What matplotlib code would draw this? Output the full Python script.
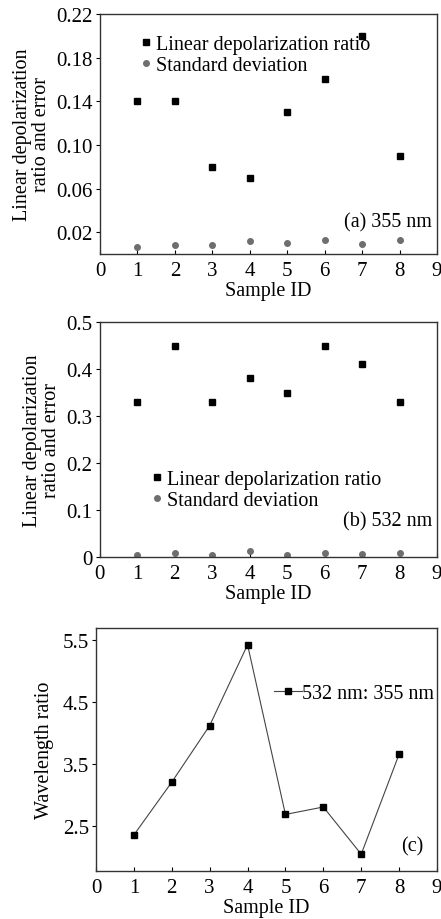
import matplotlib
matplotlib.use("Agg")
import matplotlib.pyplot as plt

# Sample IDs shared by all three panels
sample_id = [1, 2, 3, 4, 5, 6, 7, 8]

# (a) 355 nm
ldr_355 = [0.14, 0.14, 0.08, 0.07, 0.13, 0.16, 0.20, 0.09]
std_355 = [0.006, 0.008, 0.008, 0.012, 0.010, 0.013, 0.009, 0.013]

# (b) 532 nm
ldr_532 = [0.33, 0.45, 0.33, 0.38, 0.35, 0.45, 0.41, 0.33]
std_532 = [0.005, 0.008, 0.004, 0.012, 0.005, 0.008, 0.006, 0.008]

# (c) wavelength ratio 532/355
wl_ratio = [2.36, 3.21, 4.12, 5.42, 2.69, 2.81, 2.05, 3.66]

plt.rcParams['font.family'] = ['Liberation Serif', 'DejaVu Serif']
plt.rcParams['font.size'] = 14.5
plt.rcParams['xtick.labelsize'] = 15
plt.rcParams['ytick.labelsize'] = 15
plt.rcParams['axes.linewidth'] = 1.0
plt.rcParams['axes.edgecolor'] = '#333333'

W, H = 441, 920
fig = plt.figure(figsize=(W / 100, H / 100), dpi=100)


def px_axes(left, top, right, bottom):
    return fig.add_axes([left / W, 1 - bottom / H, (right - left) / W, (bottom - top) / H])


def style(ax):
    ax.set_xlim(0, 9)
    ax.set_xticks(range(10))
    ax.tick_params(axis='x', direction='in', length=3, pad=5)
    ax.tick_params(axis='y', direction='out', length=3, pad=2)
    ax.set_xlabel('Sample ID', labelpad=1)


gray = '#6e6e6e'
legend_kw = dict(frameon=False, handlelength=0.4, handletextpad=0.3,
                 borderpad=0, labelspacing=0.12)

# panel (a)
ax1 = px_axes(100, 15, 437, 255)
ax1.plot(sample_id, ldr_355, 's', color='black', ms=4, label='Linear depolarization ratio')
ax1.plot(sample_id, std_355, 'o', color=gray, ms=4, label='Standard deviation')
ax1.set_ylim(0, 0.22)
ax1.set_yticks([0.02, 0.06, 0.10, 0.14, 0.18, 0.22])
ax1.set_yticklabels(['0.02', '0.06', '0.10', '0.14', '0.18', '0.22'])
style(ax1)
ax1.set_ylabel('Linear depolarization\nratio and error', linespacing=1.0, labelpad=4)
ax1.legend(loc='upper left', bbox_to_anchor=(0.094, 0.955), **legend_kw)
ax1.text(0.985, 0.135, '(a) 355 nm', transform=ax1.transAxes, ha='right', va='center')

# panel (b)
ax2 = px_axes(99.5, 323, 437, 558)
ax2.plot(sample_id, ldr_532, 's', color='black', ms=4, label='Linear depolarization ratio')
ax2.plot(sample_id, std_532, 'o', color=gray, ms=4, label='Standard deviation')
ax2.set_ylim(0, 0.5)
ax2.set_yticks([0, 0.1, 0.2, 0.3, 0.4, 0.5])
ax2.set_yticklabels(['0', '0.1', '0.2', '0.3', '0.4', '0.5'])
style(ax2)
ax2.set_ylabel('Linear depolarization\nratio and error', linespacing=1.0, labelpad=4)
ax2.legend(loc='upper left', bbox_to_anchor=(0.128, 0.415), **legend_kw)
ax2.text(0.985, 0.155, '(b) 532 nm', transform=ax2.transAxes, ha='right', va='center')

# panel (c)
ax3 = px_axes(96, 629, 437, 872)
ax3.plot(sample_id, wl_ratio, '-s', color='#444444', lw=0.8, ms=4,
         mfc='black', mec='black', label='532 nm: 355 nm')
ax3.set_ylim(1.78, 5.69)
ax3.set_yticks([2.5, 3.5, 4.5, 5.5])
style(ax3)
ax3.set_ylabel('Wavelength ratio', labelpad=6)
ax3.legend(loc='center right', bbox_to_anchor=(1.022, 0.73), frameon=False,
           handlelength=1.4, handletextpad=0.0, borderpad=0)
ax3.text(0.96, 0.105, '(c)', transform=ax3.transAxes, ha='right', va='center')

fig.savefig('out.png', dpi=100)
